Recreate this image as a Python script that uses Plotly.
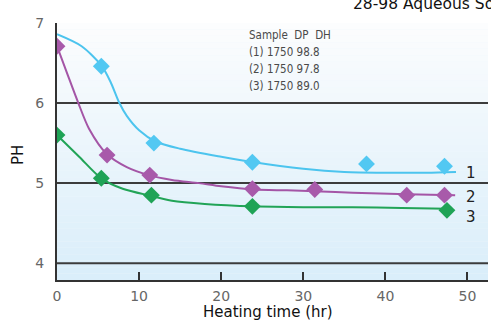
import plotly.graph_objects as go

# ---- data ----
s1_x = [5.4, 11.8, 23.8, 37.7, 47.2]
s1_y = [6.46, 5.50, 5.26, 5.24, 5.21]
s2_x = [0, 6.1, 11.3, 23.8, 31.4, 42.6, 47.2]
s2_y = [6.71, 5.35, 5.10, 4.93, 4.92, 4.85, 4.85]
s3_x = [0, 5.4, 11.5, 23.8, 47.5]
s3_y = [5.60, 5.06, 4.85, 4.71, 4.66]

# fitted curves as drawn in the picture
f1_x = [0, 3, 5.4, 6.5, 7.6, 8.5, 10, 12, 15, 20, 24, 30, 35, 40, 45, 48.6]
f1_y = [6.86, 6.71, 6.47, 6.27, 6.0, 5.84, 5.66, 5.52, 5.43, 5.33, 5.26, 5.18, 5.14, 5.13, 5.13, 5.14]
f2_x = [0, 1.2, 2.6, 3.9, 6.1, 8.5, 11.2, 14, 17.3, 20, 24, 28, 31.4, 36, 42.6, 48.5]
f2_y = [6.71, 6.38, 6.0, 5.68, 5.36, 5.2, 5.1, 5.04, 5.0, 4.96, 4.92, 4.91, 4.9, 4.88, 4.86, 4.85]
f3_x = [0, 2.7, 5.4, 8, 11.5, 14, 18, 24, 30, 36, 42, 47.5]
f3_y = [5.6, 5.33, 5.06, 4.93, 4.84, 4.78, 4.74, 4.71, 4.70, 4.70, 4.69, 4.68]

series_labels = ["1", "2", "3"]
table_lines = ["Sample  DP  DH", "(1) 1750 98.8", "(2) 1750 97.8", "(3) 1750 89.0"]
x_ticks = [0, 10, 20, 30, 40, 50]
y_ticks = [4, 5, 6, 7]
x_title = "Heating time (hr)"
y_title = "PH"
top_title = "28-98 Aqueous Solution"

colors = ["#4cc4ee", "#a455a6", "#22a457"]
marker_colors = ["#52c8f2", "#a85aaa", "#1fa356"]

X_RANGE = [0, 52.5]
Y_RANGE = [3.79, 7.0]

L, R, T, B, W, H = 57, 3, 23, 40, 491, 320
PW, PH = W - L - R, H - T - B

fig = go.Figure()

# gradient background bands
n = 40
for i in range(n):
    t = i / (n - 1)
    y0 = Y_RANGE[0] + (Y_RANGE[1] - Y_RANGE[0]) * i / n
    y1 = Y_RANGE[0] + (Y_RANGE[1] - Y_RANGE[0]) * (i + 1) / n
    r = int(218 + (252 - 218) * t)
    g = int(238 + (253 - 238) * t)
    b = int(250 + (254 - 250) * t)
    fig.add_shape(type="rect", xref="paper", yref="y", x0=0, x1=1, y0=y0, y1=y1,
                  fillcolor=f"rgb({r},{g},{b})", line_width=0, layer="below")

for fx, fy, c in [(f1_x, f1_y, colors[0]), (f2_x, f2_y, colors[1]), (f3_x, f3_y, colors[2])]:
    fig.add_trace(go.Scatter(x=fx, y=fy, mode="lines", line=dict(color=c, width=2, shape="spline", smoothing=0.8),
                             hoverinfo="skip", showlegend=False))

for sx, sy, c in [(s1_x, s1_y, marker_colors[0]), (s2_x, s2_y, marker_colors[1]), (s3_x, s3_y, marker_colors[2])]:
    fig.add_trace(go.Scatter(x=sx, y=sy, mode="markers",
                             marker=dict(symbol="diamond", size=13, color=c, line=dict(width=0)),
                             showlegend=False))

# horizontal lines at 4,5,6
for yv in y_ticks[:-1]:
    fig.add_shape(type="line", xref="paper", yref="y", x0=0, x1=1, y0=yv, y1=yv,
                  line=dict(color="#3c3c3c", width=2), layer="below")

# series end labels
for lab, yv in zip(series_labels, [5.13, 4.83, 4.58]):
    fig.add_annotation(x=50.4, y=yv, text=lab, showarrow=False, xanchor="center", yanchor="middle",
                       font=dict(family="DejaVu Sans", size=15, color="#222"))

# info block
for i, line in enumerate(table_lines):
    fig.add_annotation(x=(247 - L) / PW, xref="paper", y=6.85 - i * 0.213, yref="y", text=line, showarrow=False,
                       xanchor="left", yanchor="middle",
                       font=dict(family="DejaVu Sans Condensed", size=11.5, color="#4a4a4a"))

fig.add_annotation(x=(351 - L) / PW, xref="paper", y=(H - B - 4) / PH, yref="paper", text=top_title,
                   showarrow=False, xanchor="left", yanchor="middle",
                   font=dict(family="DejaVu Sans", size=15.5, color="#111"))

# axis titles as paper annotations
fig.add_annotation(x=(268 - L) / PW, xref="paper", y=-(312 - (H - B)) / PH, yref="paper", text=x_title,
                   showarrow=False, xanchor="center", yanchor="middle",
                   font=dict(family="DejaVu Sans", size=15, color="#111"))
fig.add_annotation(x=-(L - 18) / PW, xref="paper", y=((H - B) - 155) / PH, yref="paper", text=y_title,
                   showarrow=False, xanchor="center", yanchor="middle", textangle=-90,
                   font=dict(family="DejaVu Sans", size=15, color="#111"))

fig.update_layout(
    width=W, height=H,
    margin=dict(l=L, r=R, t=T, b=B),
    paper_bgcolor="white", plot_bgcolor="#eef7fc",
    xaxis=dict(range=X_RANGE, tickvals=x_ticks, showgrid=False, zeroline=False, automargin=False,
               showline=True, linecolor="#333", linewidth=2, ticks="inside", ticklen=8, tickwidth=2,
               tickcolor="#333", ticklabelstandoff=2,
               tickfont=dict(family="DejaVu Sans", size=14, color="#666")),
    yaxis=dict(range=Y_RANGE, tickvals=y_ticks, showgrid=False, zeroline=False, automargin=False,
               showline=True, linecolor="#333", linewidth=2, ticks="", ticklabelstandoff=8,
               tickfont=dict(family="DejaVu Sans", size=14, color="#666")),
)

fig.write_html("out.html", config={"displayModeBar": False},
               post_script="document.body.style.margin='0';document.body.style.overflow='hidden';")
